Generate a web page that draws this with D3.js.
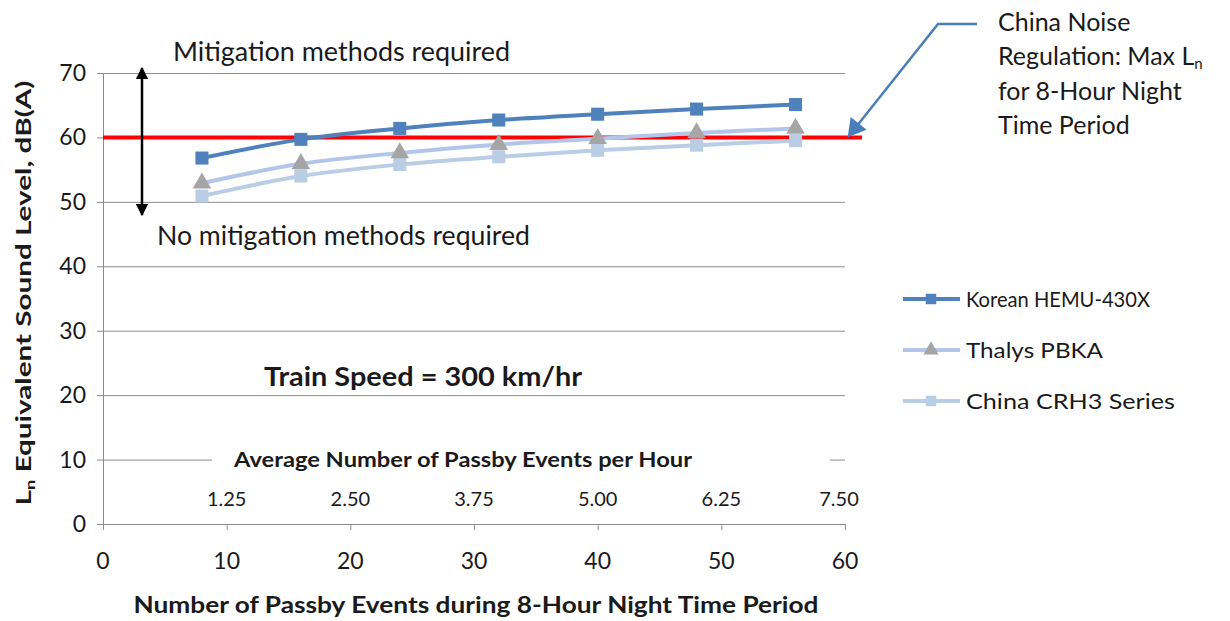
<!DOCTYPE html>
<html>
<head>
<meta charset="utf-8">
<script src="https://cdn.jsdelivr.net/npm/d3@7"></script>
<style>
  body { margin: 0; background: #fff; }
  svg text { font-family: Lato, "Open Sans", sans-serif; fill: #1a1a1a; }
</style>
</head>
<body>
<svg id="chart" width="1230" height="621"></svg>
<script>
// données
const events = [8, 16, 24, 32, 40, 48, 56];
const korean = [56.8, 59.7, 61.4, 62.7, 63.6, 64.4, 65.1];
const thalys = [52.9, 55.9, 57.6, 58.9, 59.8, 60.7, 61.4];
const crh3 = [50.9, 54.0, 55.8, 57.0, 58.0, 58.8, 59.5];
const seriesNames = ["Korean HEMU-430X", "Thalys PBKA", "China CRH3 Series"];
const yTicks = [0, 10, 20, 30, 40, 50, 60, 70];
const xTicks = [0, 10, 20, 30, 40, 50, 60];
const perHour = ["1.25", "2.50", "3.75", "5.00", "6.25", "7.50"];
const limit = 60;

const svg = d3.select("#chart");
const x = d3.scaleLinear().domain([0, 60]).range([103, 845]);
const y = d3.scaleLinear().domain([0, 70]).range([524, 73]);

// grille
svg.append("g").selectAll("line").data(yTicks).join("line")
  .attr("x1", 97).attr("x2", 845)
  .attr("y1", d => y(d) + 0.5).attr("y2", d => y(d) + 0.5)
  .attr("stroke", "#8c8c8c").attr("stroke-width", 1);

// axe vertical
svg.append("line").attr("x1", x(0) + 0.5).attr("x2", x(0) + 0.5)
  .attr("y1", y(70)).attr("y2", y(0) + 6)
  .attr("stroke", "#8c8c8c");
// graduations x
svg.append("g").selectAll("line").data(xTicks).join("line")
  .attr("x1", d => x(d) + 0.5).attr("x2", d => x(d) + 0.5)
  .attr("y1", y(0)).attr("y2", y(0) + 6)
  .attr("stroke", "#8c8c8c");

// boîte de l'axe secondaire (cache la grille)
svg.append("rect").attr("x", 212).attr("y", 447).attr("width", 618).attr("height", 68)
  .attr("fill", "#fff");
svg.append("text").attr("x", 463).attr("y", 467).attr("text-anchor", "middle")
  .attr("font-size", 20).attr("font-weight", "bold")
  .attr("textLength", 458).attr("lengthAdjust", "spacingAndGlyphs")
  .text("Average Number of Passby Events per Hour");
svg.append("g").selectAll("text").data(perHour).join("text")
  .attr("x", (d, i) => x(xTicks[i + 1]) - (i === 5 ? 6 : 0))
  .attr("y", 506).attr("text-anchor", "middle").attr("font-size", 20)
  .text(d => d);

// étiquettes des axes
svg.append("g").selectAll("text").data(yTicks).join("text")
  .attr("x", 86).attr("y", d => y(d) + 8).attr("text-anchor", "end")
  .attr("font-size", 23).text(d => d);
svg.append("g").selectAll("text").data(xTicks).join("text")
  .attr("x", d => x(d)).attr("y", 569).attr("text-anchor", "middle")
  .attr("font-size", 23).text(d => d);

svg.append("text").attr("x", 476).attr("y", 613).attr("text-anchor", "middle")
  .attr("font-size", 23).attr("font-weight", "bold")
  .attr("textLength", 685).attr("lengthAdjust", "spacingAndGlyphs")
  .text("Number of Passby Events during 8-Hour Night Time Period");

const yTitle = svg.append("text").attr("transform", "translate(31,293) rotate(-90)")
  .attr("text-anchor", "middle").attr("font-size", 21).attr("font-weight", "bold")
  .attr("textLength", 425).attr("lengthAdjust", "spacingAndGlyphs");
yTitle.append("tspan").text("L");
yTitle.append("tspan").attr("font-size", 13).attr("dy", 4).text("n");
yTitle.append("tspan").attr("dy", -4).text(" Equivalent Sound Level, dB(A)");

// ligne réglementaire
svg.append("line").attr("x1", x(0)).attr("x2", 862)
  .attr("y1", y(limit)).attr("y2", y(limit))
  .attr("stroke", "#ff0000").attr("stroke-width", 4);

// double flèche
const defs = svg.append("defs");
defs.append("marker").attr("id", "tri").attr("viewBox", "0 0 10 10")
  .attr("refX", 9).attr("refY", 5).attr("markerWidth", 5).attr("markerHeight", 5)
  .attr("orient", "auto-start-reverse").attr("markerUnits", "strokeWidth")
  .append("path").attr("d", "M0,0 L10,5 L0,10 Z").attr("fill", "#000");
svg.append("line").attr("x1", 142).attr("x2", 142).attr("y1", 68).attr("y2", 215)
  .attr("stroke", "#000").attr("stroke-width", 2.5)
  .attr("marker-start", "url(#tri)").attr("marker-end", "url(#tri)");

svg.append("text").attr("x", 173).attr("y", 61).attr("font-size", 26.5)
  .attr("textLength", 337).attr("lengthAdjust", "spacingAndGlyphs")
  .text("Mitigation methods required");
svg.append("text").attr("x", 157).attr("y", 245).attr("font-size", 26.5)
  .attr("textLength", 373).attr("lengthAdjust", "spacingAndGlyphs")
  .text("No mitigation methods required");
svg.append("text").attr("x", 423).attr("y", 386).attr("text-anchor", "middle")
  .attr("font-size", 26).attr("font-weight", "bold")
  .attr("textLength", 318).attr("lengthAdjust", "spacingAndGlyphs")
  .text("Train Speed = 300 km/hr");

// séries
const series = [
  { name: seriesNames[0], values: korean, line: "#4f81bd", mark: "#4f81bd", shape: "square" },
  { name: seriesNames[1], values: thalys, line: "#b3c6ea", mark: "#a5a5a5", shape: "triangle" },
  { name: seriesNames[2], values: crh3, line: "#b9cde5", mark: "#b9cde5", shape: "square" }
];
const lineGen = d3.line().x((d, i) => x(events[i])).y(d => y(d)).curve(d3.curveCatmullRom);
const sym = s => d3.symbol().type(s === "square" ? d3.symbolSquare : d3.symbolTriangle)
  .size(s === "square" ? 170 : 150);

series.slice().reverse().forEach(s => {
  svg.append("path").attr("d", lineGen(s.values)).attr("fill", "none")
    .attr("stroke", s.line).attr("stroke-width", 4);
});
series.slice().reverse().forEach(s => {
  svg.append("g").selectAll("path").data(s.values).join("path")
    .attr("transform", (d, i) => `translate(${x(events[i])},${y(d)})`)
    .attr("d", sym(s.shape)).attr("fill", s.mark);
});

// légende
const leg = svg.append("g").selectAll("g").data(series).join("g")
  .attr("transform", (d, i) => `translate(903,${299 + i * 51})`);
leg.append("line").attr("x1", 0).attr("x2", 57).attr("stroke", d => d.line).attr("stroke-width", 4);
leg.append("path").attr("transform", "translate(28,0)")
  .attr("d", d => d3.symbol().type(d.shape === "square" ? d3.symbolSquare : d3.symbolTriangle)
    .size(d.shape === "square" ? 110 : 100)()).attr("fill", d => d.mark);
leg.append("text").attr("x", 63).attr("y", 8).attr("font-size", 21)
  .attr("textLength", (d, i) => [184, 137, 209][i]).attr("lengthAdjust", "spacingAndGlyphs")
  .text(d => d.name);

// annotation
svg.append("path").attr("d", "M977,24 L938,24 L856,127")
  .attr("fill", "none").attr("stroke", "#4a7ebb").attr("stroke-width", 2.5);
svg.append("path").attr("d", d3.symbol().type(d3.symbolTriangle).size(180)())
  .attr("transform", `translate(855,128) rotate(${Math.atan2(103, -82) * 180 / Math.PI + 90})`)
  .attr("fill", "#4a7ebb");
const note = svg.append("text").attr("x", 998).attr("font-size", 25);
note.append("tspan").attr("x", 998).attr("y", 31).text("China Noise");
note.append("tspan").attr("x", 998).attr("y", 65).text("Regulation:  Max L");
note.append("tspan").attr("font-size", 15).attr("dy", 4).text("n");
note.append("tspan").attr("x", 998).attr("y", 100).text("for 8-Hour Night");
note.append("tspan").attr("x", 998).attr("y", 134).text("Time Period");
</script>
</body>
</html>
